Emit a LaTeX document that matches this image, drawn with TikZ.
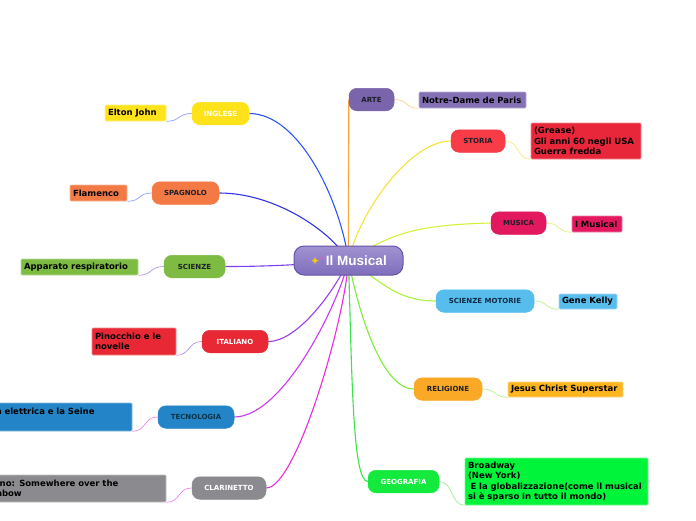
\documentclass[tikz,border=0pt]{standalone}
\usepackage{fontspec}
\setmainfont{DejaVu Sans}
\newfontfamily\centralfont{Liberation Sans}
\newfontfamily\symfont{DejaVu Sans}
\usetikzlibrary{backgrounds}
\definecolor{topicdark}{HTML}{1E1E28}
\definecolor{tecText}{HTML}{0B3446}
\definecolor{motText}{HTML}{0E2A44}
\definecolor{cIng}{HTML}{FFE31A}
\definecolor{cSpa}{HTML}{F37A45}
\definecolor{cSci}{HTML}{7DBB42}
\definecolor{cIta}{HTML}{E82935}
\definecolor{cTec}{HTML}{2385C7}
\definecolor{cCla}{HTML}{8B8B8F}
\definecolor{cArte}{HTML}{7A64AB}
\definecolor{cArteL}{HTML}{8471B5}
\definecolor{cSto}{HTML}{F73C48}
\definecolor{cStoL}{HTML}{E8283A}
\definecolor{cMus}{HTML}{E2195F}
\definecolor{cMot}{HTML}{57BDEC}
\definecolor{cRel}{HTML}{F9A926}
\definecolor{cRelL}{HTML}{FDB520}
\definecolor{cGeo}{HTML}{14E93E}
\definecolor{cGeoL}{HTML}{00F43A}
\definecolor{cenTop}{HTML}{A192D2}
\definecolor{cenBot}{HTML}{7E6EBB}
\definecolor{cenBorder}{HTML}{6653A8}
\definecolor{sparkle}{HTML}{F5C518}
\definecolor{sparkle2}{HTML}{E85AB8}
\definecolor{eIng}{HTML}{2F55FF}
\definecolor{eSpa}{HTML}{3333E6}
\definecolor{eSci}{HTML}{7F3FF0}
\definecolor{eIta}{HTML}{9C3DEB}
\definecolor{eTec}{HTML}{C83AF0}
\definecolor{eCla}{HTML}{EC2BDB}
\definecolor{eArte}{HTML}{F9A43A}
\definecolor{eSto}{HTML}{F2E43A}
\definecolor{eMus}{HTML}{D4F23A}
\definecolor{eMot}{HTML}{AAF23A}
\definecolor{eRel}{HTML}{7CEB3A}
\definecolor{eGeo}{HTML}{3DE24A}
\definecolor{sBlue}{HTML}{8FA2FF}
\definecolor{sPurp}{HTML}{B693F2}
\definecolor{sPink}{HTML}{F286EE}
\definecolor{sOrange}{HTML}{FFD38A}
\definecolor{sYellow}{HTML}{F6EC78}
\definecolor{sYG}{HTML}{E0F27A}
\definecolor{sGreen}{HTML}{B4F28A}
\definecolor{sGreen2}{HTML}{98F098}
\tikzset{
 central/.style={rectangle, rounded corners=10pt, minimum width=109pt, minimum height=29pt, inner sep=0pt, top color=cenTop, bottom color=cenBot, draw=cenBorder, line width=1pt, text=white, font=\centralfont\fontsize{13.5}{14}\selectfont\bfseries},
 topic/.style={rectangle, rounded corners=8pt, inner sep=0pt, minimum height=22.5pt, fill=#1, draw=#1, line width=0.5pt, font=\fontsize{7}{8}\selectfont\bfseries, text=topicdark},
 leaf/.style={rectangle, rounded corners=1pt, inner xsep=3pt, inner ysep=0pt, fill=#1, draw=#1!55!white, line width=0.6pt, font=\fontsize{8.5}{10.5}\selectfont\bfseries, align=left, text=black},
 mainedge/.style={draw=#1, line width=1.1pt},
 subedge/.style={draw=#1, line width=0.7pt},
}
\begin{document}
\begin{tikzpicture}[x=1pt,y=-1pt]
\useasboundingbox (0,0) rectangle (696,520);
% central
\node[central] (c) at (348.5,260.5) {{\symfont\color{sparkle}\fontsize{12}{12}\selectfont ✦}\raisebox{5pt}{\symfont\color{sparkle2}\fontsize{5}{5}\selectfont ✦}\hspace{1.5pt}Il Musical};
% left topics
\node[topic=cIng, minimum width=57pt, text=white] (ing) at (220.5,113.5) {INGLESE};
\node[topic=cSpa, minimum width=67pt] (spa) at (185.5,193) {SPAGNOLO};
\node[topic=cSci, minimum width=61pt] (sci) at (194.5,266.5) {SCIENZE};
\node[topic=cIta, minimum width=66pt, text=white] (ita) at (235,341.5) {ITALIANO};
\node[topic=cTec, minimum width=76pt, text=tecText] (tec) at (196,417) {TECNOLOGIA};
\node[topic=cCla, minimum width=74pt, text=white] (cla) at (229,488) {CLARINETTO};
% right topics
\node[topic=cArte, minimum width=45pt] (arte) at (371.5,99.5) {ARTE};
\node[topic=cSto, minimum width=54pt] (sto) at (478,141) {STORIA};
\node[topic=cMus, minimum width=55pt] (mus) at (518.5,223) {MUSICA};
\node[topic=cMot, minimum width=98pt, text=motText] (mot) at (485,301) {SCIENZE MOTORIE};
\node[topic=cRel, minimum width=68pt] (rel) at (448,389) {RELIGIONE};
\node[topic=cGeo, minimum width=71pt, text=white] (geo) at (403.5,481.5) {GEOGRAFIA};
% leaves left
\node[leaf=cIng, text width=55pt, minimum height=16pt] (elton) at (135.5,113) {Elton John};
\node[leaf=cSpa, text width=51pt, minimum height=16pt] (flam) at (98.5,193) {Flamenco};
\node[leaf=cSci, text width=111pt, minimum height=16pt] (app) at (79.5,267) {Apparato respiratorio};
\node[leaf=cIta, text width=78pt, minimum height=27pt] (pin) at (134,341.5) {Pinocchio e le\\novelle};
\node[leaf=cTec, text width=156pt, minimum height=28pt] (tecl) at (51,417) {\hspace*{23pt}a elettrica e la Seine\\\mbox{}};
\node[leaf=cCla, text width=190pt, minimum height=27pt] (clal) at (68,488.5) {\hspace*{21pt}ano: Somewhere over the\\\hspace*{23pt}nbow};
% leaves right
\node[leaf=cArteL, text width=101pt, minimum height=16pt] (notre) at (472.5,100) {Notre-Dame de Paris};
\node[leaf=cStoL, text width=104pt, minimum height=36pt] (stol) at (586,141) {(Grease)\\Gli anni 60 negli USA\\Guerra fredda};
\node[leaf=cMus, text width=44pt, minimum height=16pt] (imus) at (597,224) {I Musical};
\node[leaf=cMot, text width=52pt, minimum height=15pt] (gene) at (588,301.5) {Gene Kelly};
\node[leaf=cRelL, text width=109pt, minimum height=15pt] (jesus) at (565.5,389.5) {Jesus Christ Superstar};
\node[leaf=cGeoL, text width=177pt, minimum height=47pt] (broad) at (556.5,481.5) {Broadway\\(New York)\\\hspace*{2.5pt}E la globalizzazione(come il musical\\si è sparso in tutto il mondo)};
\begin{scope}[on background layer]
\fill[white] (0,0) rectangle (696,520);
% main edges
\draw[mainedge=eIng] (ing.east) .. controls +(50,0) and (340,200) .. (c.center);
\draw[mainedge=eSpa] (spa.east) .. controls +(55,0) and (330,230) .. (c.center);
\draw[mainedge=eSci] (sci.east) .. controls +(40,0) and (300,265) .. (c.center);
\draw[mainedge=eIta] (ita.east) .. controls +(30,0) and (335,290) .. (c.center);
\draw[mainedge=eTec] (tec.east) .. controls +(50,0) and (340,300) .. (c.center);
\draw[mainedge=eCla] (cla.east) .. controls +(30,0) and (345,320) .. (c.center);
\draw[mainedge=eArte] (arte.west) .. controls (349,140) and (348,200) .. (c.center);
\draw[mainedge=eSto] (sto.west) .. controls +(-40,0) and (360,210) .. (c.center);
\draw[mainedge=eMus] (mus.west) .. controls +(-80,2) and (390,235) .. (c.center);
\draw[mainedge=eMot] (mot.west) .. controls +(-40,0) and (380,280) .. (c.center);
\draw[mainedge=eRel] (rel.west) .. controls +(-30,0) and (360,320) .. (c.center);
\draw[mainedge=eGeo] (geo.west) .. controls +(-15,0) and (352,380) .. (c.center);
% sub edges
\draw[subedge=sBlue] (ing.west) .. controls +(-14,0) and +(14,0) .. (elton.south east);
\draw[subedge=sBlue] (spa.west) .. controls +(-14,0) and +(14,0) .. (flam.south east);
\draw[subedge=sPurp] (sci.west) .. controls +(-14,0) and +(14,0) .. (app.south east);
\draw[subedge=sPurp] (ita.west) .. controls +(-14,0) and +(14,0) .. (pin.south east);
\draw[subedge=sPink] (tec.west) .. controls +(-14,0) and +(14,0) .. (tecl.south east);
\draw[subedge=sPink] (cla.west) .. controls +(-14,0) and +(14,0) .. (clal.south east);
\draw[subedge=sOrange] (arte.east) .. controls +(14,0) and +(-14,0) .. (notre.south west);
\draw[subedge=sYellow] (sto.east) .. controls +(14,0) and +(-14,0) .. (stol.south west);
\draw[subedge=sYG] (mus.east) .. controls +(14,0) and +(-14,0) .. (imus.south west);
\draw[subedge=sGreen] (mot.east) .. controls +(14,0) and +(-14,0) .. (gene.south west);
\draw[subedge=sGreen] (rel.east) .. controls +(14,0) and +(-14,0) .. (jesus.south west);
\draw[subedge=sGreen2] (geo.east) .. controls +(14,0) and +(-14,0) .. (broad.south west);
\end{scope}
\end{tikzpicture}
\end{document}
